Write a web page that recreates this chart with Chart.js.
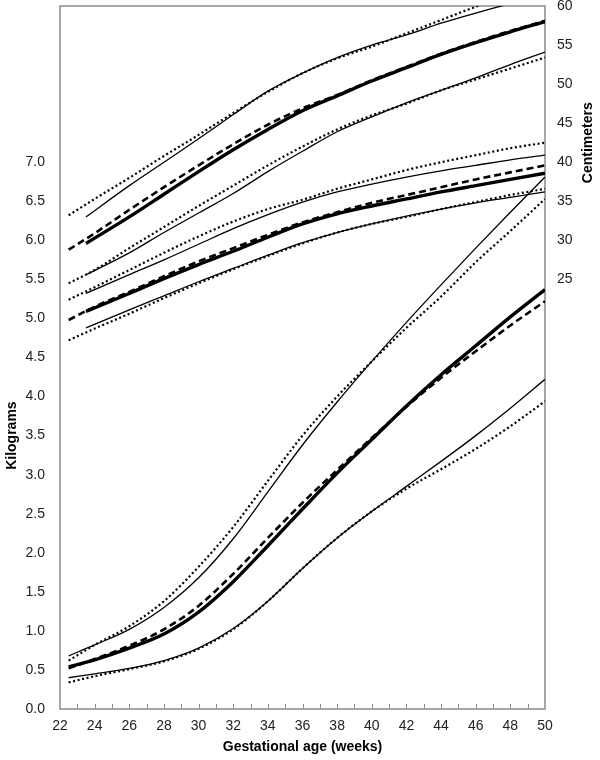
<!DOCTYPE html>
<html>
<head>
<meta charset="utf-8">
<title>Growth chart</title>
<script src="https://cdn.jsdelivr.net/npm/chart.js@4/dist/chart.umd.min.js"></script>
<style>
  html, body { margin: 0; padding: 0; background: #fff; }
  #growthChart { display: block; }
</style>
</head>
<body>
<canvas id="growthChart" width="600" height="760"></canvas>
<script>
// Gestational age points (weeks). Reference curves start at 22.5, new length / HC curves at 23.5
const refWeeks = [22.5, 24, 26, 28, 30, 32, 34, 36, 38, 40, 42, 44, 46, 48, 50];
const newWeeks = [23.5, 26, 28, 30, 32, 34, 36, 38, 40, 42, 44, 46, 48, 50];

// Weight (kg, left axis) - all weight curves use refWeeks
const weightNewHigh = [0.68, 0.82, 1.02, 1.30, 1.68, 2.18, 2.78, 3.38, 3.93, 4.45, 4.95, 5.43, 5.90, 6.36, 6.81];
const weightNewMid  = [0.54, 0.63, 0.78, 0.96, 1.24, 1.63, 2.09, 2.56, 3.02, 3.45, 3.88, 4.28, 4.65, 5.02, 5.37];
const weightNewLow  = [0.40, 0.45, 0.52, 0.62, 0.78, 1.03, 1.38, 1.80, 2.19, 2.53, 2.85, 3.17, 3.50, 3.85, 4.22];
const weightRefHigh = [0.62, 0.82, 1.06, 1.38, 1.82, 2.33, 2.92, 3.50, 4.00, 4.45, 4.88, 5.28, 5.72, 6.12, 6.53];
const weightRefMid  = [0.52, 0.64, 0.81, 1.02, 1.32, 1.73, 2.19, 2.64, 3.06, 3.47, 3.87, 4.24, 4.58, 4.91, 5.22];
const weightRefLow  = [0.34, 0.42, 0.51, 0.61, 0.77, 1.02, 1.38, 1.80, 2.19, 2.53, 2.82, 3.07, 3.33, 3.62, 3.94];

// Length (cm, right axis)
const lengthNewHigh = [33.0, 37.0, 40.0, 43.0, 46.1, 49.1, 51.4, 53.4, 55.0, 56.3, 57.8, 59.1, 60.3, 61.4];
const lengthNewMid  = [29.6, 33.0, 35.9, 38.8, 41.6, 44.2, 46.6, 48.5, 50.4, 52.1, 53.8, 55.3, 56.7, 58.0];
const lengthNewLow  = [25.6, 28.4, 31.0, 33.5, 36.0, 38.8, 41.4, 43.9, 45.8, 47.6, 49.2, 50.8, 52.5, 54.1];
const lengthRefHigh = [33.2, 35.3, 38.0, 40.8, 43.5, 46.3, 49.0, 51.4, 53.3, 54.8, 56.5, 58.2, 59.9, 61.4, 62.8];
const lengthRefMid  = [28.8, 30.9, 33.9, 36.8, 39.6, 42.3, 44.8, 46.9, 48.6, 50.5, 52.2, 53.9, 55.4, 56.8, 58.1];
const lengthRefLow  = [24.5, 26.2, 29.0, 31.7, 34.4, 37.0, 39.6, 42.0, 44.2, 46.0, 47.5, 49.2, 50.6, 52.0, 53.4];

// Head circumference (cm, right axis)
const headNewHigh = [23.2, 25.6, 27.5, 29.5, 31.5, 33.3, 34.9, 36.2, 37.2, 38.1, 38.9, 39.6, 40.3, 40.9];
const headNewMid  = [20.9, 23.2, 25.1, 26.9, 28.6, 30.4, 32.1, 33.4, 34.4, 35.3, 36.2, 37.0, 37.8, 38.6];
const headNewLow  = [18.8, 21.1, 22.9, 24.7, 26.4, 28.1, 29.7, 31.0, 32.1, 33.1, 34.0, 34.8, 35.5, 36.2];
const headRefHigh = [22.4, 24.0, 26.2, 28.4, 30.5, 32.4, 34.0, 35.2, 36.6, 37.8, 39.0, 40.0, 40.9, 41.8, 42.5];
const headRefMid  = [19.8, 21.5, 23.4, 25.4, 27.3, 29.0, 30.7, 32.3, 33.6, 34.8, 35.8, 36.8, 37.8, 38.7, 39.6];
const headRefLow  = [17.2, 18.7, 20.6, 22.6, 24.5, 26.3, 28.0, 29.6, 31.0, 32.1, 33.0, 34.0, 34.9, 35.8, 36.6];

// Axis ticks
const xTicks = [22, 24, 26, 28, 30, 32, 34, 36, 38, 40, 42, 44, 46, 48, 50];
const kgTicks = [0, 0.5, 1, 1.5, 2, 2.5, 3, 3.5, 4, 4.5, 5, 5.5, 6, 6.5, 7];
const cmTicks = [25, 30, 35, 40, 45, 50, 55, 60];

const FONT = '"Liberation Sans", Arial, sans-serif';
const AXIS_GREY = '#8a8a8a';

const STYLES = {
  thin:   { borderWidth: 1.3, borderDash: [] },
  thick:  { borderWidth: 3.4, borderDash: [] },
  dashed: { borderWidth: 2.6, borderDash: [7, 4] },
  dotted: { borderWidth: 2.2, borderDash: [2, 2.6] }
};

function series(label, weeks, values, style, axis) {
  return Object.assign({
    label: label,
    data: weeks.map((w, i) => ({ x: w, y: values[i] })),
    yAxisID: axis,
    borderColor: '#000',
    backgroundColor: '#000',
    pointRadius: 0,
    fill: false,
    cubicInterpolationMode: 'monotone'
  }, STYLES[style]);
}

const datasets = [
  series('Weight high', refWeeks, weightNewHigh, 'thin', 'yKg'),
  series('Weight ref high', refWeeks, weightRefHigh, 'dotted', 'yKg'),
  series('Weight median', refWeeks, weightNewMid, 'thick', 'yKg'),
  series('Weight ref median', refWeeks, weightRefMid, 'dashed', 'yKg'),
  series('Weight low', refWeeks, weightNewLow, 'thin', 'yKg'),
  series('Weight ref low', refWeeks, weightRefLow, 'dotted', 'yKg'),

  series('Length high', newWeeks, lengthNewHigh, 'thin', 'yCm'),
  series('Length ref high', refWeeks, lengthRefHigh, 'dotted', 'yCm'),
  series('Length median', newWeeks, lengthNewMid, 'thick', 'yCm'),
  series('Length ref median', refWeeks, lengthRefMid, 'dashed', 'yCm'),
  series('Length low', newWeeks, lengthNewLow, 'thin', 'yCm'),
  series('Length ref low', refWeeks, lengthRefLow, 'dotted', 'yCm'),

  series('HC high', newWeeks, headNewHigh, 'thin', 'yCm'),
  series('HC ref high', refWeeks, headRefHigh, 'dotted', 'yCm'),
  series('HC median', newWeeks, headNewMid, 'thick', 'yCm'),
  series('HC ref median', refWeeks, headRefMid, 'dashed', 'yCm'),
  series('HC low', newWeeks, headNewLow, 'thin', 'yCm'),
  series('HC ref low', refWeeks, headRefLow, 'dotted', 'yCm')
];

// Frame round the plot, inward minor ticks on the x axis, and the two vertical axis titles
const frameAndTitles = {
  id: 'frameAndTitles',
  beforeDatasetsDraw(chart) {
    const { ctx, chartArea: a, scales } = chart;
    ctx.save();
    ctx.strokeStyle = AXIS_GREY;
    ctx.lineWidth = 1.5;
    ctx.strokeRect(a.left, a.top, a.right - a.left, a.bottom - a.top);
    ctx.lineWidth = 1;
    ctx.beginPath();
    for (let w = 23; w < 50; w++) {
      const px = Math.round(scales.x.getPixelForValue(w)) + 0.5;
      ctx.moveTo(px, a.bottom);
      ctx.lineTo(px, a.bottom - 5);
    }
    ctx.stroke();
    ctx.restore();
  },
  afterDraw(chart) {
    const { ctx, scales } = chart;
    ctx.save();
    ctx.font = 'bold 14px ' + FONT;
    ctx.fillStyle = '#000';
    ctx.textAlign = 'center';
    ctx.textBaseline = 'middle';

    const kgMid = (scales.yKg.getPixelForValue(kgTicks[0]) + scales.yKg.getPixelForValue(kgTicks[kgTicks.length - 1])) / 2;
    ctx.save();
    ctx.translate(12, kgMid);
    ctx.rotate(-Math.PI / 2);
    ctx.fillText('Kilograms', 0, 0);
    ctx.restore();

    const cmMid = (scales.yCm.getPixelForValue(cmTicks[0]) + scales.yCm.getPixelForValue(cmTicks[cmTicks.length - 1])) / 2;
    ctx.save();
    ctx.translate(588, cmMid);
    ctx.rotate(-Math.PI / 2);
    ctx.fillText('Centimeters', 0, 0);
    ctx.restore();

    ctx.restore();
  }
};

// y scales: fixed width and no extra label padding, so the plot runs from y=6 to y=709
function fixY(width) {
  return (scale) => {
    scale.width = width;
    scale.paddingTop = 0;
    scale.paddingBottom = 0;
  };
}

new Chart(document.getElementById('growthChart'), {
  type: 'line',
  data: { datasets: datasets },
  plugins: [frameAndTitles],
  options: {
    responsive: false,
    animation: false,
    devicePixelRatio: 1,
    layout: { padding: { top: 6, right: 0, bottom: 0, left: 0 } },
    plugins: {
      legend: { display: false },
      tooltip: { enabled: false }
    },
    scales: {
      x: {
        type: 'linear',
        min: 22,
        max: 50,
        afterBuildTicks: (scale) => { scale.ticks = xTicks.map(v => ({ value: v })); },
        afterFit: (scale) => { scale.height = 51; },
        border: { display: false },
        grid: { display: false, drawTicks: false },
        ticks: {
          padding: 9,
          color: '#222',
          font: { family: FONT, size: 14 },
          maxRotation: 0,
          callback: (v) => v
        },
        title: {
          display: true,
          text: 'Gestational age (weeks)',
          color: '#000',
          font: { family: FONT, size: 14, weight: 'bold' },
          padding: { top: 2, bottom: 4 }
        }
      },
      yKg: {
        type: 'linear',
        position: 'left',
        min: 0,
        max: 9,
        afterBuildTicks: (scale) => { scale.ticks = kgTicks.map(v => ({ value: v })); },
        afterFit: fixY(60),
        border: { display: false },
        grid: { display: false, drawTicks: false },
        ticks: {
          padding: 15,
          color: '#222',
          font: { family: FONT, size: 14 },
          callback: (v) => v.toFixed(1)
        }
      },
      yCm: {
        type: 'linear',
        position: 'right',
        min: -30,
        max: 60,
        afterBuildTicks: (scale) => { scale.ticks = cmTicks.map(v => ({ value: v })); },
        afterFit: fixY(55),
        border: { display: false },
        grid: { display: false, drawTicks: false },
        ticks: {
          padding: 12,
          color: '#222',
          font: { family: FONT, size: 14 },
          callback: (v) => v
        }
      }
    }
  }
});
</script>
</body>
</html>
